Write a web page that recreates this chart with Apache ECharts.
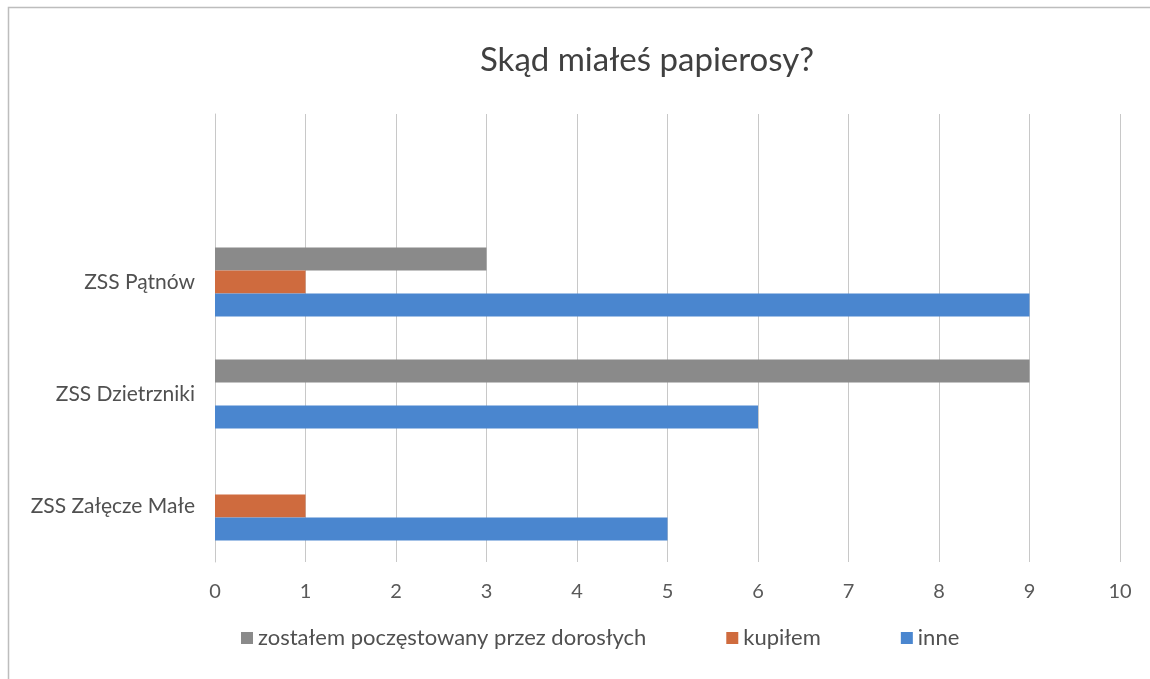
<!DOCTYPE html>
<html>
<head>
<meta charset="utf-8">
<script src="https://cdn.jsdelivr.net/npm/echarts@6/dist/echarts.min.js"></script>
<style>html,body{margin:0;padding:0;background:#fff;}#c{width:1150px;height:679px;}</style>
</head>
<body>
<div id="c"></div>
<script>
var categories = ['ZSS Załęcze Małe', 'ZSS Dzietrzniki', 'ZSS Pątnów', ''];
var seriesNames = ['zostałem poczęstowany przez dorosłych', 'kupiłem', 'inne'];
var poczestowany = [null, 9, 3, null];
var kupilem = [1, null, 1, null];
var inne = [5, 6, 9, null];
var xTicks = [0, 1, 2, 3, 4, 5, 6, 7, 8, 9, 10];

var font = 'Lato, "Open Sans", sans-serif';
var colors = {};
colors[seriesNames[0]] = '#8a8a8a';
colors[seriesNames[1]] = '#cf6b3e';
colors[seriesNames[2]] = '#4a86cf';

function mk(name, data) {
  return {
    name: name, type: 'bar', data: data,
    barWidth: 23, barGap: '0%',
    itemStyle: { color: colors[name] },
    emphasis: { disabled: true }
  };
}

var chart = echarts.init(document.getElementById('c'));
chart.setOption({
  animation: false,
  backgroundColor: '#fff',
  graphic: [{
    type: 'rect', silent: true, z: -1,
    shape: { x: 8.5, y: 7.5, width: 1200, height: 700 },
    style: { fill: 'none', stroke: '#bdbdbd', lineWidth: 1.5 }
  }, {
    type: 'text', silent: true,
    left: 480, top: 44,
    style: { text: 'Skąd miałeś papierosy?', fontFamily: font, fontSize: 33, fill: '#404040' }
  }],
  legend: {
    data: seriesNames,
    top: 622, left: 236,
    itemWidth: 12, itemHeight: 12, itemGap: 80,
    icon: 'rect',
    textStyle: { fontFamily: font, fontSize: 22, color: '#505050', padding: [0, 0, 0, 0] }
  },
  grid: { left: 215, right: 30, top: 114, bottom: 117, containLabel: false },
  xAxis: {
    type: 'value', min: xTicks[0], max: xTicks[xTicks.length - 1], interval: 1,
    axisLine: { show: false }, axisTick: { show: false },
    splitLine: { lineStyle: { color: '#c8c8c8', width: 1 } },
    axisLabel: { fontFamily: font, fontSize: 20, color: '#595959', margin: 20 }
  },
  yAxis: {
    type: 'category', data: categories,
    axisLine: { show: true, lineStyle: { color: '#c8c8c8' } },
    axisTick: { show: false },
    axisLabel: { fontFamily: font, fontSize: 21, color: '#505050', margin: 20 }
  },
  series: [
    mk(seriesNames[0], poczestowany),
    mk(seriesNames[1], kupilem),
    mk(seriesNames[2], inne)
  ]
});
</script>
</body>
</html>
